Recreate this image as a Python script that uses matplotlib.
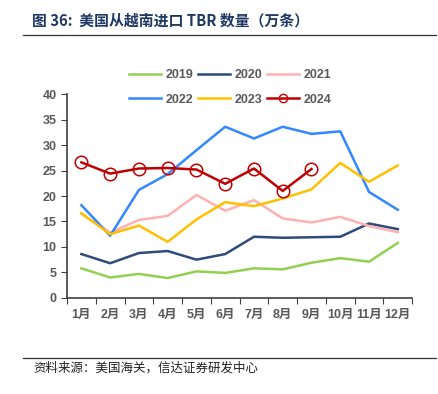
import matplotlib.pyplot as plt
from matplotlib.lines import Line2D

plt.rcParams['font.family'] = ['Liberation Sans', 'Noto Sans CJK SC', 'DejaVu Sans']
cjk = ['Noto Sans CJK SC', 'DejaVu Sans']

# data (万条)
months = ['1月', '2月', '3月', '4月', '5月', '6月', '7月', '8月', '9月', '10月', '11月', '12月']
v2019 = [5.8, 4.0, 4.7, 3.9, 5.2, 4.9, 5.8, 5.6, 6.9, 7.8, 7.1, 10.8]
v2020 = [8.6, 6.8, 8.8, 9.2, 7.5, 8.6, 12.0, 11.8, 11.9, 12.0, 14.6, 13.5]
v2021 = [16.5, 12.8, 15.3, 16.1, 20.2, 17.1, 19.2, 15.6, 14.8, 15.9, 14.1, 12.9]
v2022 = [18.2, 12.2, 21.2, 24.3, 29.0, 33.6, 31.3, 33.6, 32.2, 32.7, 20.8, 17.3]
v2023 = [16.6, 12.5, 14.2, 11.0, 15.4, 18.8, 18.0, 19.5, 21.3, 26.5, 22.8, 26.0]
v2024 = [26.6, 24.4, 25.4, 25.5, 25.2, 22.4, 25.4, 21.0, 25.3]

gray = '#595959'
c19, c20, c21, c22, c23, c24 = '#92D050', '#2F4B7C', '#FFB1B1', '#3388FF', '#FFC000', '#C00000'

fig = plt.figure(figsize=(4.38, 3.94), dpi=100)
ax = fig.add_axes([0.153, 0.244, 0.788, 0.517])

x = list(range(12))
ax.plot(x, v2019, color=c19, lw=1.8)
ax.plot(x, v2020, color=c20, lw=1.8)
ax.plot(x, v2021, color=c21, lw=1.8)
ax.plot(x, v2022, color=c22, lw=1.8)
ax.plot(x, v2023, color=c23, lw=1.8)
ax.plot(x[:len(v2024)], v2024, color=c24, lw=1.8, marker='o', ms=9,
        mfc='none', mec=c24, mew=1.1)

ax.set_xlim(-0.5, 11.5)
ax.set_ylim(0, 40)
ax.set_yticks(range(0, 41, 5))
ax.set_xticks([i - 0.5 for i in range(13)])
ax.set_xticklabels([])
ax.set_xticks(x, minor=True)
ax.set_xticklabels(months, minor=True)
ax.tick_params(axis='x', which='minor', length=0, pad=8)
ax.tick_params(axis='x', which='major', length=4, color='#404040')
ax.tick_params(axis='y', length=4, color='#404040')
for lab in ax.get_xticklabels(minor=True) + ax.get_yticklabels():
    lab.set_color(gray)
    lab.set_fontweight('bold')
    lab.set_fontsize(9)

for s in ['top', 'right']:
    ax.spines[s].set_visible(False)
for s in ['left', 'bottom']:
    ax.spines[s].set_color('#404040')
    ax.spines[s].set_linewidth(1.2)

# legend, row-major order in a column-filled legend
def h(c, **kw):
    return Line2D([], [], color=c, lw=1.8, **kw)

handles = [h(c19), h(c22), h(c20), h(c23), h(c21),
           h(c24, marker='o', ms=6, mfc='none', mec=c24, mew=1.0)]
labels = ['2019', '2022', '2020', '2023', '2021', '2024']
leg = fig.legend(handles, labels, loc='center', bbox_to_anchor=(0.525, 0.778), ncol=3,
                 frameon=False, fontsize=9, handlelength=2.6, columnspacing=0.4,
                 handletextpad=0.3, labelspacing=1.0)
for t in leg.get_texts():
    t.set_color(gray)
    t.set_fontweight('bold')

# title and source
fig.text(0.073, 0.948, '图 36:  美国从越南进口 TBR 数量（万条）', fontsize=10.7,
         fontweight='bold', color='#1F3864', va='center', family=cjk)
fig.add_artist(Line2D([0.052, 0.995], [0.912, 0.912], color='#333333', lw=0.9))
fig.add_artist(Line2D([0.052, 0.995], [0.092, 0.092], color='#333333', lw=0.9))
fig.text(0.076, 0.066, '资料来源：美国海关，信达证券研发中心', fontsize=9,
         color='#222222', va='center', family=cjk)

fig.savefig('out.png', dpi=100)
